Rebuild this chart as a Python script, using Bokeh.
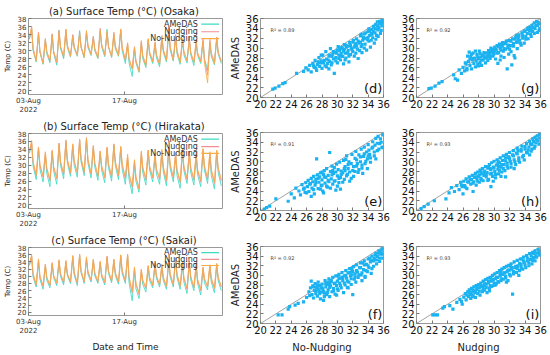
from bokeh.plotting import figure
from bokeh.layouts import row, column
from bokeh.models import FixedTicker, Range1d, Label
from bokeh.embed import file_html
from bokeh.resources import INLINE

FONT = "DejaVu Sans"
C_AMEDAS = "#3DDBC4"
C_NUDG = "#F29090"
C_NONUDG = "#F9AC45"
C_PT = "#1AB2F0"

# ---------------- time series data (day 0 = 03-Aug-2022): night minimum, midday maximum, evening value
osaka_amedas_min = [32.8, 27.2, 26.6, 27.0, 26.4, 28.0, 28.4, 28.6, 28.2, 28.8, 28.0, 28.5, 28.3, 28.6, 26.8, 23.6, 24.6, 25.8, 26.8, 26.0, 27.2, 27.4, 26.6, 26.9, 26.3, 26.8, 25.2, 26.5, 26.8]
osaka_amedas_max = [35.2, 34.4, 32.6, 34.0, 35.1, 34.6, 33.8, 35.0, 34.3, 33.4, 34.8, 35.3, 33.9, 35.0, 31.2, 30.4, 31.8, 32.6, 31.5, 33.1, 34.6, 33.2, 32.4, 33.0, 31.6, 32.3, 31.9, 33.0]
osaka_amedas_eve = [30.0, 29.6, 29.2, 29.4, 30.6, 30.8, 30.6, 30.9, 30.8, 30.0, 31.0, 31.0, 30.5, 30.0, 27.0, 27.0, 28.0, 29.0, 28.2, 29.6, 30.2, 29.2, 29.0, 29.0, 28.8, 28.0, 28.6, 29.2]
osaka_nudging_min = [33.0, 27.6, 27.0, 27.4, 27.0, 28.4, 28.8, 29.0, 28.6, 29.2, 28.5, 28.8, 28.6, 29.0, 27.6, 25.6, 25.2, 26.6, 27.4, 26.8, 27.8, 27.8, 27.4, 27.6, 27.2, 27.4, 24.0, 27.2, 27.4]
osaka_nudging_max = [35.8, 34.6, 33.0, 34.2, 35.0, 35.2, 34.0, 34.6, 34.8, 33.6, 35.6, 34.4, 34.6, 35.3, 31.8, 31.0, 32.5, 32.8, 32.2, 33.5, 35.8, 34.0, 32.8, 33.4, 32.2, 33.0, 32.8, 33.4]
osaka_nudging_eve = [30.6, 30.0, 29.8, 29.8, 31.0, 31.4, 31.0, 31.0, 31.4, 30.6, 31.6, 31.0, 31.2, 30.8, 28.0, 27.6, 28.8, 29.6, 29.0, 30.2, 31.0, 30.0, 29.8, 29.6, 29.4, 27.8, 29.4, 29.6]
osaka_nonudge_min = [33.2, 27.4, 26.8, 27.6, 27.2, 28.6, 28.6, 28.8, 28.4, 29.0, 28.2, 29.0, 28.4, 28.8, 27.8, 25.4, 24.8, 26.2, 27.2, 26.6, 27.6, 27.6, 27.0, 27.4, 27.0, 27.2, 22.0, 26.8, 27.2]
osaka_nonudge_max = [36.0, 34.2, 32.8, 33.8, 34.8, 35.4, 33.6, 34.2, 35.0, 33.2, 35.0, 34.8, 34.2, 35.4, 32.0, 30.8, 32.2, 33.0, 31.8, 33.8, 35.4, 33.6, 33.0, 32.6, 32.8, 32.4, 32.2, 33.2]
osaka_nonudge_eve = [30.4, 29.6, 29.8, 29.8, 31.0, 31.2, 30.8, 30.8, 31.4, 30.2, 31.4, 31.0, 31.0, 30.8, 28.0, 27.4, 28.6, 29.6, 28.8, 30.2, 30.8, 29.8, 29.8, 29.4, 29.4, 27.0, 29.0, 29.6]

hira_amedas_min = [33.0, 26.4, 25.8, 24.6, 25.2, 26.6, 27.2, 27.0, 27.4, 26.8, 26.2, 25.6, 26.0, 26.4, 25.2, 22.8, 23.2, 25.0, 25.8, 25.2, 24.8, 25.8, 24.2, 25.4, 25.0, 24.6, 25.4, 24.0, 24.8]
hira_amedas_max = [35.4, 34.2, 32.4, 33.4, 35.2, 35.8, 34.8, 36.2, 36.6, 34.4, 33.0, 34.0, 35.0, 34.2, 31.4, 30.2, 32.6, 33.4, 31.8, 33.2, 33.8, 32.0, 33.4, 33.0, 32.2, 33.6, 32.4, 33.2]
hira_amedas_eve = [29.8, 29.0, 28.0, 28.6, 30.0, 30.6, 30.0, 30.8, 30.6, 29.6, 28.8, 29.4, 30.0, 29.0, 26.4, 26.0, 28.2, 28.8, 27.8, 28.4, 29.2, 27.4, 28.6, 28.2, 27.6, 28.8, 27.4, 28.2]
hira_nudging_min = [33.4, 27.4, 27.0, 26.0, 26.6, 27.6, 28.0, 28.0, 28.2, 27.8, 27.2, 26.8, 27.0, 27.4, 26.6, 24.4, 24.2, 26.2, 26.8, 26.4, 26.0, 26.8, 25.6, 26.4, 26.2, 25.8, 26.4, 25.4, 26.0]
hira_nudging_max = [35.8, 34.6, 33.0, 33.8, 35.6, 36.4, 35.2, 36.6, 37.0, 34.8, 33.6, 34.4, 35.4, 34.6, 32.2, 31.0, 33.2, 33.8, 32.6, 33.6, 34.2, 32.8, 33.8, 33.6, 32.8, 34.0, 33.0, 33.6]
hira_nudging_eve = [30.6, 30.0, 29.0, 29.6, 30.8, 31.4, 30.8, 31.6, 31.4, 30.4, 29.8, 30.2, 30.8, 30.0, 27.6, 27.0, 29.2, 29.6, 28.8, 29.2, 30.0, 28.6, 29.4, 29.2, 28.6, 29.6, 28.6, 29.2]
hira_nonudge_min = [33.6, 27.6, 27.2, 26.4, 26.8, 27.8, 28.2, 28.2, 28.4, 28.0, 27.4, 27.0, 27.2, 27.6, 27.0, 24.8, 24.0, 26.6, 27.0, 26.8, 26.4, 27.0, 26.0, 26.8, 26.6, 26.2, 26.8, 25.8, 26.4]
hira_nonudge_max = [36.2, 34.4, 33.4, 33.6, 35.4, 36.0, 35.4, 36.4, 36.8, 35.0, 33.4, 34.6, 35.2, 34.8, 32.8, 31.4, 33.6, 33.8, 33.0, 34.0, 34.6, 33.2, 34.2, 33.4, 33.2, 34.2, 33.4, 33.8]
hira_nonudge_eve = [31.0, 30.2, 29.4, 29.6, 31.0, 31.4, 31.2, 31.8, 31.6, 30.6, 29.8, 30.4, 30.8, 30.4, 28.0, 27.2, 29.6, 29.8, 29.2, 29.6, 30.2, 29.0, 29.8, 29.4, 29.0, 29.8, 29.0, 29.4]

sakai_amedas_min = [33.0, 27.0, 26.4, 26.8, 27.4, 27.6, 28.0, 27.4, 28.0, 28.4, 28.0, 27.6, 28.2, 27.8, 28.0, 23.2, 23.8, 25.6, 26.8, 27.0, 26.4, 27.0, 26.4, 25.2, 26.0, 24.8, 26.2, 25.4, 26.0]
sakai_amedas_max = [35.2, 34.2, 32.8, 33.4, 34.0, 33.8, 35.2, 35.6, 34.6, 34.2, 33.6, 35.2, 34.2, 35.4, 35.6, 31.6, 31.2, 32.2, 33.2, 32.6, 34.0, 34.6, 33.2, 33.6, 32.8, 31.8, 32.6, 33.0]
sakai_amedas_eve = [29.8, 29.2, 29.0, 29.6, 30.0, 30.2, 30.4, 31.0, 30.6, 30.2, 29.8, 30.8, 30.2, 30.8, 28.2, 26.6, 27.8, 28.8, 29.4, 28.8, 29.8, 29.6, 28.4, 29.0, 28.0, 28.2, 28.4, 28.8]
sakai_nudging_min = [33.2, 27.6, 27.2, 27.4, 28.0, 28.2, 28.4, 28.0, 28.4, 28.8, 28.4, 28.2, 28.6, 28.4, 28.6, 25.4, 25.0, 26.6, 27.4, 27.6, 27.2, 27.6, 27.2, 26.4, 26.8, 26.0, 27.0, 26.6, 27.0]
sakai_nudging_max = [35.6, 34.6, 33.2, 33.8, 34.4, 34.2, 35.6, 36.0, 35.0, 34.6, 34.0, 35.6, 34.6, 35.8, 36.0, 32.2, 31.8, 32.8, 33.6, 33.0, 34.4, 35.0, 33.6, 34.0, 33.2, 32.4, 33.0, 33.4]
sakai_nudging_eve = [30.4, 29.8, 29.6, 30.2, 30.6, 30.6, 30.8, 31.4, 31.2, 30.8, 30.4, 31.4, 30.8, 31.4, 29.6, 27.8, 28.6, 29.6, 30.0, 29.4, 30.4, 30.4, 29.4, 29.8, 29.0, 29.2, 29.2, 29.6]
sakai_nonudge_min = [33.4, 27.8, 27.4, 27.6, 28.2, 28.4, 28.6, 28.2, 28.6, 29.0, 28.6, 28.4, 28.8, 28.6, 28.8, 25.8, 25.4, 27.0, 27.6, 27.8, 27.4, 27.8, 27.4, 26.8, 27.0, 26.4, 27.2, 26.8, 27.2]
sakai_nonudge_max = [36.0, 34.8, 33.4, 33.6, 34.6, 34.4, 35.8, 36.2, 35.4, 34.8, 34.2, 35.4, 34.8, 36.0, 36.2, 32.6, 32.0, 33.0, 33.8, 33.4, 34.8, 35.2, 34.0, 34.2, 33.4, 32.6, 33.2, 33.6]
sakai_nonudge_eve = [30.8, 30.2, 29.8, 30.2, 30.8, 30.8, 31.2, 31.6, 31.4, 31.0, 30.6, 31.4, 31.0, 31.6, 30.0, 28.2, 29.0, 29.8, 30.2, 29.8, 30.8, 30.6, 29.8, 30.0, 29.2, 29.4, 29.6, 29.8]

ts_yticks = [20, 22, 24, 26, 28, 30, 32, 34, 36, 38]
ts_xticks = [0, 14]
ts_xlabels = ["03-Aug\n2022", "17-Aug"]
legend_names = ["AMeDAS", "Nudging", "No-Nudging"]
hour_min, hour_max, hour_eve = 3, 11, 16

# ---------------- scatter data (x = model, y = AMeDAS)
d_x = [21.6,21.9,22.4,22.9,23.2,24.7,25.6,25.9,26.2,26.4,26.6,26.8,27.0,27.1,27.3,27.4,27.6,27.7,27.9,28.0,28.1,28.2,28.4,28.5,28.6,28.7,28.9,29.0,29.1,29.2,29.4,29.5,29.6,29.7,29.8,30.0,30.1,30.2,30.3,30.4,30.6,30.7,30.8,30.9,31.0,31.1,31.2,31.4,31.5,31.6,31.7,31.8,32.0,32.1,32.2,32.3,32.5,32.6,32.7,32.8,33.0,33.1,33.2,33.3,33.5,33.6,33.7,33.8,34.0,34.1,34.2,34.3,34.5,34.6,34.7,34.8,34.9,35.0,35.1,35.2,35.3,35.4,35.5,35.6,35.7,35.8,27.5,28.8,29.9,30.5,31.3,28.0,29.3,30.9,32.4,33.4,34.4,35.0,
       27.2,27.8,28.3,28.6,29.0,29.3,29.5,29.8,30.0,30.2,30.4,30.6,30.8,31.0,31.1,31.3,31.5,31.7,31.9,32.0,32.2,32.4,32.5,32.7,32.9,33.0,33.2,33.4,33.5,33.7,33.9,34.0,34.2,34.4,34.5,34.7,34.9,35.0,35.2,35.3,35.5,35.7,35.9,35.8,34.1,33.1,30.3,28.9,26.9,27.9]
d_y = [21.7,21.9,22.3,22.8,23.0,24.9,25.3,26.0,25.6,26.5,25.2,26.9,26.1,27.5,25.5,26.7,28.1,26.3,27.4,25.9,28.6,27.0,26.4,29.3,27.8,26.9,28.4,27.3,29.9,26.6,28.8,27.8,24.9,29.2,28.1,27.0,30.3,28.6,29.5,27.6,29.9,28.3,26.8,30.7,29.0,28.0,30.2,29.5,27.2,31.1,28.7,30.0,29.3,31.6,28.4,30.6,31.9,29.8,27.9,31.0,32.5,30.3,29.1,31.6,32.9,30.8,32.0,29.6,33.4,31.4,32.6,30.2,33.8,32.1,34.4,31.0,33.1,34.8,32.6,35.3,33.7,34.2,35.4,33.0,35.0,34.5,27.2,27.6,29.0,28.9,30.4,27.1,28.3,29.8,30.9,32.2,33.0,33.9,
       26.0,27.0,27.5,26.2,28.6,27.0,29.3,27.4,29.6,27.9,28.4,30.1,29.4,27.6,30.6,29.0,28.4,30.5,29.7,31.2,30.2,29.0,30.4,31.4,29.5,31.2,30.7,31.9,30.0,33.1,31.7,32.2,33.6,31.6,32.8,33.3,34.0,31.8,34.5,32.4,34.9,33.6,35.2,35.6,33.9,32.8,30.0,25.8,26.4,28.6]

g_x = [21.6,21.9,22.4,22.9,23.3,24.8,25.0,25.3,25.5,25.8,26.0,26.2,26.4,26.5,26.7,26.8,26.9,27.0,27.1,27.2,27.3,27.4,27.5,27.6,27.7,27.8,27.9,28.0,28.1,28.2,28.3,28.4,28.5,28.6,28.7,28.8,28.9,29.0,29.1,29.2,29.3,29.4,29.5,29.6,29.7,29.8,29.9,30.0,30.1,30.2,30.3,30.4,30.5,30.6,30.7,30.8,30.9,31.0,31.1,31.2,31.3,31.4,31.5,31.6,31.7,31.8,31.9,32.0,32.1,32.2,32.3,32.4,32.5,32.6,32.8,32.9,33.0,33.2,33.3,33.5,33.6,33.7,33.9,34.0,34.1,34.3,34.4,34.6,34.7,34.9,35.0,35.2,35.3,35.5,35.6,35.8,35.9,34.8,33.1,30.0,
       26.3,26.6,26.9,27.1,27.3,27.6,27.9,28.2,28.4,28.7,29.0,29.2,29.4,29.7,29.9,30.2,30.4,30.6,30.9,31.1,31.3,31.5,31.8,32.0,32.2,32.5,32.7,33.0,33.2,33.4,33.7,33.9,34.1,34.3,34.6,34.8,35.0,35.2,35.4,35.7,35.9,35.6,34.4,32.9,31.2,29.5,30.8,32.7,28.0,26.5]
g_y = [21.8,21.9,22.3,22.9,23.2,24.6,23.8,23.5,25.6,24.9,26.1,25.4,26.8,25.9,27.3,29.2,26.5,28.3,25.8,27.6,29.0,26.9,28.0,26.2,27.4,28.7,26.8,27.8,29.4,27.1,28.2,26.5,28.6,27.6,29.1,28.0,27.0,29.0,28.3,27.5,29.5,28.7,27.9,30.0,29.2,28.4,29.8,28.9,30.2,27.8,29.6,30.5,26.9,29.1,30.8,29.9,28.4,30.4,31.1,29.4,28.1,30.9,29.8,31.4,25.8,30.1,28.8,31.5,30.5,29.3,26.6,31.9,30.9,28.5,32.2,31.2,29.9,32.7,31.6,30.6,33.1,32.0,31.0,33.5,32.4,33.8,31.9,34.2,32.9,34.6,33.4,35.1,34.0,35.4,34.6,33.6,34.9,33.7,31.8,29.4,
       27.0,28.4,27.8,28.8,27.9,29.4,28.2,28.9,27.6,28.4,28.0,29.0,28.2,29.6,28.6,29.8,29.0,30.3,29.6,30.6,29.9,31.0,30.6,29.8,31.4,30.4,31.8,31.2,32.3,31.0,32.6,33.4,31.8,33.0,33.6,32.4,34.2,33.0,34.6,35.2,34.0,33.2,34.1,32.6,30.9,29.2,27.6,28.0,26.4,25.6]

e_x = [20.5,20.8,21.2,22.0,23.6,24.0,24.4,24.6,25.0,25.2,25.4,25.6,25.8,25.9,26.1,26.2,26.3,26.5,26.6,26.7,26.8,26.9,27.0,27.1,27.2,27.3,27.4,27.5,27.6,27.7,27.8,27.9,28.0,28.1,28.2,28.3,28.4,28.5,28.6,28.7,28.8,28.9,29.0,29.1,29.2,29.3,29.4,29.5,29.6,29.7,29.8,29.9,30.0,30.1,30.2,30.3,30.4,30.5,30.7,30.8,30.9,31.0,31.2,31.3,31.4,31.5,31.6,31.8,31.9,32.0,32.1,32.3,32.4,32.5,32.7,32.8,33.0,33.1,33.2,33.4,33.5,33.6,33.8,33.9,34.0,34.2,34.3,34.5,34.6,34.8,34.9,35.0,35.2,35.3,35.5,35.6,35.8,35.9,31.1,28.0,
       25.7,26.0,26.4,26.9,27.2,27.5,27.8,28.0,28.3,28.6,28.8,29.1,29.3,29.6,29.8,30.0,30.2,30.5,30.7,30.9,31.2,31.4,31.6,31.8,32.1,32.3,32.5,32.8,33.0,33.2,33.5,33.7,33.9,34.1,34.3,34.6,34.8,35.0,35.2,35.4,35.7,35.9,34.0,32.6,31.0,29.4,28.2,26.6,30.4,33.3]
e_y = [20.3,20.6,20.9,22.4,21.9,23.4,22.6,24.6,24.0,23.2,25.3,24.4,23.7,25.7,24.9,26.2,23.9,25.5,26.6,24.6,25.9,27.0,23.4,25.2,26.4,30.6,27.3,24.5,25.8,26.9,27.7,25.1,26.3,24.0,27.4,28.2,25.6,26.8,28.6,24.8,27.2,25.9,31.9,28.0,26.5,29.1,25.4,27.6,28.8,26.1,24.2,29.5,27.1,28.4,25.7,29.9,26.8,28.1,27.7,30.3,26.4,29.0,31.2,27.4,28.6,30.0,26.0,29.6,31.5,28.2,27.0,30.7,32.1,29.1,27.8,31.4,30.0,32.6,28.7,31.1,33.0,29.6,32.0,30.6,33.5,31.5,29.9,32.8,34.1,31.2,33.4,34.8,32.3,35.2,33.7,34.7,32.9,35.5,30.5,27.9,
       24.6,23.6,25.4,24.3,25.7,26.6,24.4,25.2,26.9,25.0,26.2,24.6,27.3,26.0,27.9,25.0,26.6,27.4,25.8,28.6,27.1,29.4,27.9,26.6,29.0,28.0,30.4,28.4,31.0,29.3,31.6,30.1,28.6,32.4,30.8,33.0,32.0,30.6,33.8,32.6,34.0,33.0,31.2,29.6,28.2,28.2,23.6,22.9,24.4,27.6]

h_x = [20.6,21.0,21.5,22.3,23.8,24.2,24.5,24.9,25.2,25.5,25.7,25.9,26.1,26.2,26.4,26.5,26.7,26.8,27.0,27.1,27.2,27.4,27.5,27.6,27.7,27.8,27.9,28.0,28.1,28.2,28.3,28.4,28.5,28.6,28.7,28.8,28.9,29.0,29.1,29.2,29.3,29.4,29.5,29.6,29.7,29.8,29.9,30.0,30.1,30.2,30.3,30.4,30.5,30.6,30.7,30.8,30.9,31.0,31.1,31.2,31.3,31.4,31.5,31.6,31.7,31.8,31.9,32.0,32.1,32.2,32.4,32.5,32.6,32.8,32.9,33.0,33.2,33.3,33.5,33.6,33.8,33.9,34.0,34.2,34.3,34.5,34.6,34.8,34.9,35.0,35.2,35.3,35.4,35.6,35.7,35.9,29.6,31.5,27.3,30.6,
       25.8,26.3,26.6,26.9,27.3,27.6,27.9,28.1,28.4,28.7,29.0,29.2,29.5,29.7,30.0,30.2,30.5,30.7,31.0,31.2,31.5,31.7,32.0,32.2,32.5,32.7,33.0,33.2,33.5,33.7,34.0,34.2,34.4,34.7,34.9,35.1,35.3,35.5,35.8,35.9,33.1,31.9,30.6,29.3,28.3,30.9,32.6,26.0,29.9,34.6]
h_y = [20.4,20.8,21.3,22.0,22.4,23.6,24.7,23.9,25.1,24.3,25.8,24.9,26.0,25.1,26.5,24.5,25.8,26.9,25.4,26.4,27.2,25.9,26.8,27.6,25.2,26.5,27.9,27.0,25.8,28.3,26.6,27.5,28.6,26.1,27.2,28.1,29.0,26.9,27.8,28.7,26.4,29.4,27.5,28.4,29.8,27.0,28.9,30.1,28.0,26.7,29.3,30.4,28.5,27.5,29.8,30.8,28.9,27.9,30.3,31.2,29.4,28.2,30.8,31.5,29.7,28.7,31.0,31.9,30.1,28.9,31.4,32.3,30.4,29.4,31.8,32.8,30.8,29.9,32.2,33.2,31.3,30.4,32.6,33.7,31.8,33.0,34.2,32.2,33.5,34.7,32.8,35.0,33.9,35.3,34.3,35.6,24.9,26.9,23.9,29.0,
       25.2,24.8,25.9,26.3,25.6,26.9,26.0,27.3,26.3,27.8,27.4,26.2,28.6,27.6,28.7,27.4,29.6,28.2,29.4,28.6,30.2,29.1,30.6,29.6,31.2,30.0,31.6,30.3,32.5,31.0,33.1,31.9,32.4,33.6,32.6,34.2,33.2,34.6,33.6,34.9,32.3,30.9,30.0,28.9,28.0,27.0,28.6,23.4,26.0,31.4]

f_x = [22.3,22.8,23.6,23.8,24.5,24.9,25.6,26.0,26.3,26.5,26.6,26.7,26.8,26.9,27.0,27.1,27.2,27.3,27.4,27.5,27.6,27.7,27.8,27.9,28.0,28.1,28.2,28.3,28.4,28.5,28.6,28.7,28.8,28.9,29.0,29.1,29.2,29.3,29.4,29.5,29.6,29.7,29.8,29.9,30.0,30.1,30.2,30.3,30.4,30.5,30.6,30.7,30.8,30.9,31.0,31.1,31.2,31.3,31.4,31.5,31.6,31.7,31.8,31.9,32.0,32.1,32.2,32.3,32.4,32.5,32.6,32.7,32.9,33.0,33.1,33.2,33.4,33.5,33.6,33.8,33.9,34.0,34.1,34.3,34.4,34.5,34.7,34.8,35.0,35.1,35.2,35.4,35.5,35.6,35.8,35.9,29.0,30.6,27.9,31.9,
       26.9,27.2,27.5,27.7,28.0,28.2,28.5,28.7,29.0,29.2,29.5,29.7,30.0,30.2,30.4,30.7,30.9,31.1,31.3,31.6,31.8,32.0,32.3,32.5,32.8,33.0,33.2,33.5,33.7,34.0,34.2,34.5,34.7,34.9,35.1,35.3,35.5,35.7,35.9,34.4,33.3,31.9,30.1,28.8,27.4,28.3,29.9,31.4,33.6,26.4]
f_y = [21.8,21.8,23.0,23.5,23.8,24.2,24.5,25.4,26.6,27.4,28.8,26.0,27.8,25.3,26.9,28.3,26.2,27.5,25.7,28.6,26.8,27.9,25.1,26.5,28.2,27.2,24.8,26.3,28.9,27.6,26.0,28.1,27.0,29.3,25.6,27.8,28.7,26.6,29.6,27.3,28.3,26.1,29.9,27.9,28.8,26.9,30.2,28.4,29.4,27.4,30.6,28.9,26.4,29.9,28.0,31.0,29.4,27.5,30.5,28.6,31.4,29.9,28.1,30.9,26.0,31.8,29.2,30.3,28.6,32.2,30.7,29.6,31.6,32.6,30.1,28.9,31.2,33.0,29.8,32.3,30.8,33.4,31.6,32.8,30.4,34.0,31.9,33.5,34.6,32.4,33.9,35.1,32.9,34.4,35.5,33.6,28.3,29.6,27.4,30.1,
       27.6,26.8,27.2,26.2,27.4,26.7,28.3,26.4,27.5,28.9,26.8,28.4,27.2,29.3,27.9,29.6,28.4,30.0,28.8,30.6,29.3,30.8,29.7,31.0,30.1,31.6,30.5,32.2,31.0,32.0,33.6,31.4,33.0,34.2,33.2,34.6,33.6,35.0,34.4,33.2,32.6,31.4,29.9,28.6,28.0,25.6,25.9,27.4,29.6,25.8]

i_x = [22.1,22.4,22.7,23.4,23.6,24.3,24.7,25.2,25.6,25.9,26.1,26.3,26.4,26.6,26.7,26.8,26.9,27.0,27.1,27.2,27.3,27.4,27.5,27.6,27.7,27.8,27.9,28.0,28.1,28.2,28.3,28.4,28.5,28.6,28.7,28.8,28.9,29.0,29.1,29.2,29.3,29.4,29.5,29.6,29.7,29.8,29.9,30.0,30.1,30.2,30.3,30.4,30.5,30.6,30.7,30.8,30.9,31.0,31.1,31.2,31.3,31.4,31.5,31.6,31.7,31.8,31.9,32.0,32.1,32.2,32.3,32.4,32.5,32.6,32.7,32.9,33.0,33.1,33.3,33.4,33.5,33.7,33.8,33.9,34.1,34.2,34.3,34.5,34.6,34.7,34.9,35.0,35.1,35.3,35.4,35.6,35.7,35.9,30.2,28.6,
       26.5,26.8,27.0,27.3,27.6,27.8,28.1,28.3,28.6,28.8,29.0,29.3,29.5,29.8,30.0,30.3,30.5,30.8,31.0,31.3,31.5,31.8,32.0,32.3,32.5,32.8,33.0,33.3,33.5,33.8,34.0,34.3,34.5,34.8,35.0,35.2,35.5,35.8,35.9,34.9,33.6,32.1,30.9,29.6,27.2,29.4,31.6,33.2,25.8,35.3]
i_y = [21.8,21.8,21.8,23.2,23.5,23.7,23.0,24.4,25.0,24.0,25.5,26.2,24.9,26.6,25.6,27.0,26.1,25.2,27.3,26.5,25.8,27.6,26.8,25.4,27.9,27.1,26.2,28.1,27.4,25.9,28.4,27.7,26.6,28.8,27.9,27.0,29.1,28.2,26.4,29.4,28.5,27.3,29.6,28.8,27.7,30.0,29.0,27.9,30.3,29.3,28.3,30.6,29.6,28.6,31.0,29.9,28.9,31.3,30.2,29.2,31.6,30.5,29.5,31.9,30.8,28.9,32.1,31.1,29.9,32.4,31.3,26.1,30.3,32.8,31.6,30.6,33.1,32.0,31.0,33.4,32.3,31.3,33.8,32.7,31.6,34.1,33.0,32.0,34.5,33.3,32.4,34.8,33.7,35.1,34.0,34.6,35.4,34.2,28.0,26.9,
       25.9,26.5,26.0,26.9,26.4,27.5,26.7,27.9,27.3,28.3,27.5,28.7,27.9,29.2,28.4,29.6,28.7,30.2,29.3,30.5,29.8,31.1,30.2,31.6,30.8,31.9,31.4,32.5,31.6,33.0,32.2,33.6,32.6,34.0,33.1,34.5,33.8,35.0,34.4,34.6,33.4,31.9,30.6,29.4,25.6,26.8,28.6,30.0,24.6,33.0]

sc_ticks = [20, 22, 24, 26, 28, 30, 32, 34, 36]
r2 = {"d": "0.89", "e": "0.91", "f": "0.92", "g": "0.92", "h": "0.93", "i": "0.93"}


def daily_curve(mins, maxs, eves):
    xs, ys = [], []
    for i, v in enumerate(mins):
        xs.append(i + hour_min / 24.0)
        ys.append(v)
        if i < len(maxs):
            xs.append(i + hour_max / 24.0)
            ys.append(maxs[i])
            xs.append(i + hour_eve / 24.0)
            ys.append(eves[i])
    return xs, ys


def style_axis(ax, size, color="#333333"):
    ax.major_label_text_font = FONT
    ax.major_label_text_font_size = size
    ax.major_label_text_color = color
    ax.axis_line_color = None
    ax.major_tick_in = 3
    ax.major_tick_out = 0
    ax.major_tick_line_color = "#777777"
    ax.minor_tick_line_color = None
    ax.major_label_standoff = 2
    ax.axis_label_text_font = FONT
    ax.axis_label_text_font_style = "normal"
    ax.axis_label_text_color = "#222222"


def ts_fig(title, series, h, bt, bb, xlabel=None):
    p = figure(width=226, height=h, x_range=Range1d(0, 28.3), y_range=Range1d(19.1, 38),
               output_backend="svg", toolbar_location=None,
               min_border_left=28, min_border_right=4, min_border_top=bt, min_border_bottom=bb)
    p.title.text = title
    p.title.align = "center"
    p.title.text_font = FONT
    p.title.text_font_size = "10px"
    p.title.text_font_style = "normal"
    p.title.text_color = "#222222"
    p.title.standoff = 3
    p.title.offset = 0
    p.grid.visible = False
    p.outline_line_color = "#999999"
    colors = [C_AMEDAS, C_NUDG, C_NONUDG]
    for (mins, maxs, eves), c in zip(series, colors):
        xs, ys = daily_curve(mins, maxs, eves)
        p.line(xs, ys, line_color=c, line_width=0.9, line_alpha=0.95)
    xa, ya = p.xaxis[0], p.yaxis[0]
    xa.ticker = FixedTicker(ticks=ts_xticks)
    xa.major_label_overrides = {t: l for t, l in zip(ts_xticks, ts_xlabels)}
    ya.ticker = FixedTicker(ticks=ts_yticks)
    style_axis(xa, "7px")
    style_axis(ya, "7px")
    ya.axis_label = "Temp (C)"
    ya.axis_label_text_font_size = "7px"
    ya.axis_label_standoff = 3
    if xlabel:
        xa.axis_label = xlabel
        xa.axis_label_text_font_size = "9px"
        xa.axis_label_standoff = 4
    # legend (text left of sample, as in the original)
    ly = [36.6, 34.7, 33.0]
    for name, c, y in zip(legend_names, colors, ly):
        p.add_layout(Label(x=24.7, y=y, text=name, text_align="right", text_baseline="middle",
                           text_font=FONT, text_font_size="8px", text_color="#333333"))
        p.segment(x0=[25.2], y0=[y], x1=[27.8], y1=[y], line_color=c, line_width=1.2)
    return p


def sc_fig(xs, ys, key, w, h, bl, br, bt, bb, ylabel=None, xlabel=None):
    p = figure(width=w, height=h, x_range=Range1d(20, 36), y_range=Range1d(20, 36),
               output_backend="svg", toolbar_location=None,
               min_border_left=bl, min_border_right=br, min_border_top=bt, min_border_bottom=bb)
    p.grid.visible = False
    p.outline_line_color = "#999999"
    ends = [sc_ticks[0], sc_ticks[-1]]
    p.line(ends, ends, line_color="#8a8a8a", line_width=0.8)
    p.scatter(xs, ys, marker="square", size=3.2, fill_color=C_PT, line_color=None)
    p.add_layout(Label(x=21.3, y=33.6, text="R² = " + r2[key], text_baseline="middle",
                       text_font=FONT, text_font_size="5px", text_color="#444444"))
    p.add_layout(Label(x=35.85, y=20.25, text="(" + key + ")", text_align="right", text_baseline="bottom",
                       text_font=FONT, text_font_size="13px", text_color="#111111"))
    xa, ya = p.xaxis[0], p.yaxis[0]
    xa.ticker = FixedTicker(ticks=sc_ticks)
    ya.ticker = FixedTicker(ticks=sc_ticks)
    style_axis(xa, "10px", "#111111")
    style_axis(ya, "10px", "#111111")
    if ylabel:
        ya.axis_label = ylabel
        ya.axis_label_text_font_size = "10px"
        ya.axis_label_standoff = 2
    if xlabel:
        xa.axis_label = xlabel
        xa.axis_label_text_font_size = "10px"
        xa.axis_label_standoff = 5
    return p


pa = ts_fig("(a)  Surface Temp (°C) (Osaka)",
            [(osaka_amedas_min, osaka_amedas_max, osaka_amedas_eve),
             (osaka_nudging_min, osaka_nudging_max, osaka_nudging_eve),
             (osaka_nonudge_min, osaka_nonudge_max, osaka_nonudge_eve)], 117, 18, 19)
pb = ts_fig("(b)  Surface Temp (°C) (Hirakata)",
            [(hira_amedas_min, hira_amedas_max, hira_amedas_eve),
             (hira_nudging_min, hira_nudging_max, hira_nudging_eve),
             (hira_nonudge_min, hira_nonudge_max, hira_nonudge_eve)], 114, 15, 19)
pc = ts_fig("(c)  Surface Temp (°C) (Sakai)",
            [(sakai_amedas_min, sakai_amedas_max, sakai_amedas_eve),
             (sakai_nudging_min, sakai_nudging_max, sakai_nudging_eve),
             (sakai_nonudge_min, sakai_nonudge_max, sakai_nonudge_eve)], 124, 14, 28, xlabel="Date and Time")

pd_ = sc_fig(d_x, d_y, "d", 172, 115, 32, 15, 18, 18, ylabel="AMeDAS")
pe = sc_fig(e_x, e_y, "e", 172, 115, 32, 15, 17, 20, ylabel="AMeDAS")
pf = sc_fig(f_x, f_y, "f", 172, 125, 32, 15, 16, 31, ylabel="AMeDAS", xlabel="No-Nudging")
pg = sc_fig(g_x, g_y, "g", 152, 115, 15, 10, 18, 18)
ph = sc_fig(h_x, h_y, "h", 152, 115, 15, 10, 17, 20)
pi = sc_fig(i_x, i_y, "i", 152, 125, 15, 10, 16, 31, xlabel="Nudging")

lay = row(column(pa, pb, pc), column(pd_, pe, pf), column(pg, ph, pi))

open("out.html", "w").write(file_html(lay, INLINE))
